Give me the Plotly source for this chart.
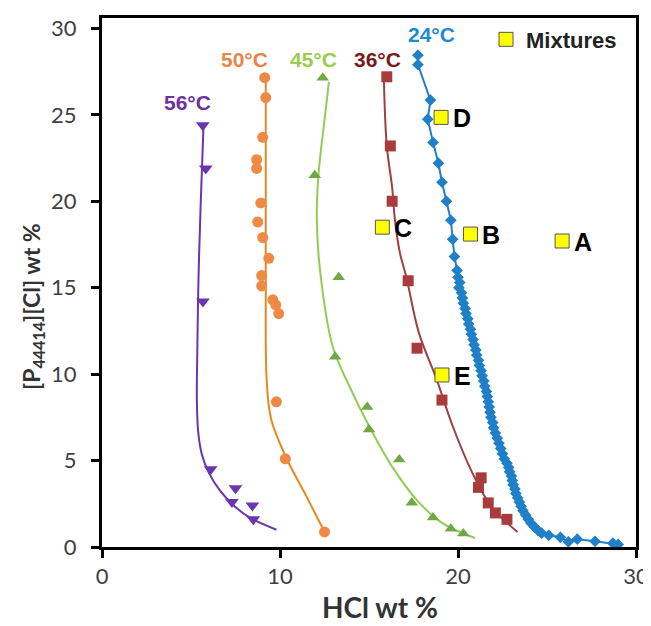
import plotly.graph_objects as go

# ---- data ----
# 56 °C
t56_x = [5.66, 5.83, 5.67, 6.1, 7.5, 7.3, 8.45, 8.5]
t56_y = [24.4, 21.9, 14.2, 4.5, 3.4, 2.6, 2.4, 1.6]
fit56_x = [5.7, 5.55, 5.42, 5.35, 5.33, 5.4, 5.6, 6.0, 6.6, 7.4, 8.3, 9.8]
fit56_y = [24.3, 20.0, 15.5, 11.0, 8.5, 6.7, 5.4, 4.3, 3.3, 2.4, 1.7, 1.0]

# 50 °C
t50_x = [9.14, 9.2, 9.03, 8.69, 8.69, 8.92, 8.75, 9.03, 9.37, 8.97, 8.97, 9.6, 9.76, 9.93, 9.8, 10.3, 12.5]
t50_y = [27.15, 26.0, 23.7, 22.4, 21.9, 19.9, 18.8, 17.9, 16.7, 15.7, 15.1, 14.3, 14.0, 13.5, 8.4, 5.1, 0.87]
fit50_x = [9.2, 9.2, 9.2, 9.25, 9.5, 10.4, 11.5, 12.5]
fit50_y = [27.2, 20.0, 15.5, 9.7, 7.4, 5.06, 2.9, 0.87]

# 45 °C
t45_x = [12.4, 11.95, 13.3, 13.1, 14.9, 15.0, 16.7, 17.4, 18.6, 19.6, 20.3]
t45_y = [27.15, 21.5, 15.6, 11.0, 8.1, 6.8, 5.06, 2.56, 1.7, 1.05, 0.78]
fit45_x = [12.75, 12.5, 12.15, 12.07, 12.25, 12.96, 13.9, 15.0, 16.3, 17.7, 19.1, 20.95]
fit45_y = [26.9, 24.7, 21.4, 18.9, 16.0, 11.6, 9.3, 7.0, 4.65, 2.7, 1.4, 0.52]

# 36 °C
t36_x = [16.0, 16.2, 16.3, 17.2, 17.7, 19.1, 21.3, 21.15, 21.7, 22.1, 22.75]
t36_y = [27.2, 23.2, 20.0, 15.4, 11.5, 8.5, 4.0, 3.45, 2.55, 1.97, 1.6]
fit36_x = [15.84, 16.0, 16.3, 16.46, 16.74, 17.1, 17.8, 18.8, 19.7, 20.8, 21.9, 23.35]
fit36_y = [26.9, 23.2, 20.8, 18.9, 17.0, 15.6, 12.4, 9.7, 7.0, 4.3, 2.3, 0.87]

# 24 °C
t24_x = [17.75, 17.75, 18.45, 18.3, 18.6, 18.9, 19.1, 19.35, 19.6, 19.7, 19.8, 19.95,
         20.0, 20.1, 20.05, 20.2, 20.25, 20.3, 20.4, 20.45, 20.55, 20.6, 20.7, 20.75,
         20.85, 20.9, 21.0, 21.05, 21.15, 21.2, 21.3, 21.35, 21.45, 21.5, 21.6, 21.65,
         21.7, 21.75, 21.8, 21.85, 21.95, 22.0, 22.1, 22.2, 22.3, 22.4, 22.5, 22.6,
         22.75, 22.85, 22.9, 23.0, 23.05, 23.1, 23.2, 23.25, 23.35, 23.45, 23.55, 23.65,
         23.8, 23.95, 24.1, 24.3, 24.5, 24.7, 25.1, 25.75, 26.2, 26.7, 27.7, 28.7, 29.0]
t24_y = [28.45, 27.9, 25.85, 24.75, 23.4, 22.2, 21.1, 20.0, 18.9, 17.8, 16.8, 16.0,
         15.6, 15.3, 15.0, 14.7, 14.4, 14.1, 13.8, 13.5, 13.2, 12.9, 12.6, 12.3,
         12.0, 11.7, 11.4, 11.1, 10.8, 10.5, 10.2, 9.9, 9.6, 9.3, 9.0, 8.7,
         8.4, 8.1, 7.8, 7.5, 7.2, 6.9, 6.6, 6.3, 6.0, 5.7, 5.4, 5.1,
         4.85, 4.6, 4.35, 4.1, 3.85, 3.6, 3.35, 3.1, 2.85, 2.6, 2.35, 2.1,
         1.85, 1.6, 1.38, 1.15, 0.95, 0.8, 0.68, 0.56, 0.3, 0.45, 0.33, 0.22, 0.15]

# Mixtures
mix_names = ["A", "B", "C", "D", "E"]
mix_x = [25.85, 20.7, 15.75, 19.05, 19.1]
mix_y = [17.7, 18.1, 18.5, 24.85, 9.95]

# temperature labels
temp_labels = ["56°C", "50°C", "45°C", "36°C", "24°C"]
temp_lx = [4.83, 8.03, 11.9, 15.45, 18.5]
temp_ly = [25.7, 28.2, 28.2, 28.2, 29.65]
temp_colors = ["#7030A0", "#E8864A", "#9BCB4F", "#7B1A1A", "#1F8AD0"]

x_ticks = [0, 10, 20, 30]
y_ticks = [0, 5, 10, 15, 20, 25, 30]

fig = go.Figure()

def fit_line(xs, ys, color):
    fig.add_trace(go.Scatter(x=xs, y=ys, mode="lines", line=dict(color=color, width=2, shape="spline"),
                             showlegend=False, hoverinfo="skip"))

def pts(xs, ys, color, symbol, size, name):
    fig.add_trace(go.Scatter(x=xs, y=ys, mode="markers", name=name,
                             marker=dict(color=color, symbol=symbol, size=size, line=dict(width=0)),
                             showlegend=False))

fit_line(fit56_x, fit56_y, "#6A35B0")
pts(t56_x, t56_y, "#6A35B0", "triangle-down", 12, "56°C")

fit_line(fit50_x, fit50_y, "#E8871E")
pts(t50_x, t50_y, "#EE8A45", "circle", 11, "50°C")

fit_line(fit45_x, fit45_y, "#92CC55")
pts(t45_x, t45_y, "#6FA845", "triangle-up", 11, "45°C")

fit_line(fit36_x, fit36_y, "#A0403F")
pts(t36_x, t36_y, "#A83C3C", "square", 11, "36°C")

fig.add_trace(go.Scatter(x=t24_x, y=t24_y, mode="lines+markers", name="24°C",
                         line=dict(color="#1F80C8", width=2),
                         marker=dict(color="#1F80C8", symbol="diamond", size=9),
                         showlegend=False))

fig.add_trace(go.Scatter(x=mix_x, y=mix_y, mode="markers", name="Mixtures",
                         marker=dict(color="#FFFF00", symbol="square", size=14,
                                     line=dict(color="#555555", width=1)),
                         showlegend=True))

for n, x, y in zip(mix_names, mix_x, mix_y):
    fig.add_annotation(x=x, y=y, text=n, showarrow=False, xanchor="left", xshift=10, yshift=-1,
                       font=dict(family="Liberation Sans, Arial", size=25, color="black", weight="bold"))

for t, x, y, c in zip(temp_labels, temp_lx, temp_ly, temp_colors):
    fig.add_annotation(x=x, y=y, text=t, showarrow=False,
                       font=dict(family="Liberation Sans, Arial", size=21, color=c, weight="bold"))

# axis titles (paper coordinates relative to the plot area: x 102..636, y 18..547 in page pixels)
fig.add_annotation(x=(380 - 102) / 534, y=-(607 - 547) / 529, xref="paper", yref="paper",
                   text="<b>HCl wt %</b>", showarrow=False, xanchor="center", yanchor="middle",
                   font=dict(family="Lato, Open Sans", size=28, color="#333333"))
fig.add_annotation(x=-(102 - 32) / 534, y=(547 - 307) / 529, xref="paper", yref="paper",
                   text="<b>[P<sub>44414</sub>][Cl] wt %</b>", showarrow=False, textangle=-90,
                   xanchor="center", yanchor="middle",
                   font=dict(family="Lato, Open Sans", size=23, color="#333333"))

axis_common = dict(showgrid=False, zeroline=False, showline=True, linewidth=3, linecolor="black",
                   mirror=True, ticks="outside", tickwidth=3, ticklen=8, tickcolor="black",
                   automargin=False,
                   tickfont=dict(family="Lato, Open Sans", size=22, color="#404040"))

# the page body adds an 8px offset, so the figure is sized/margined to land the plot area
# at x 102..636 and y 18..547 in the 651x626 window
fig.update_layout(
    width=643, height=618,
    margin=dict(l=94, r=15, t=10, b=79),
    plot_bgcolor="white", paper_bgcolor="white",
    xaxis=dict(range=[0, 30], tickvals=x_ticks, **axis_common),
    yaxis=dict(range=[0, 30.6], tickvals=y_ticks, ticklabelstandoff=10, **axis_common),
    legend=dict(x=(486 - 102) / 534, y=0.999, xanchor="left", yanchor="top", bgcolor="rgba(0,0,0,0)",
                font=dict(family="Liberation Sans, Arial", size=22, color="#222222", weight="bold"),
                itemwidth=30),
)

fig.write_html("out.html")
